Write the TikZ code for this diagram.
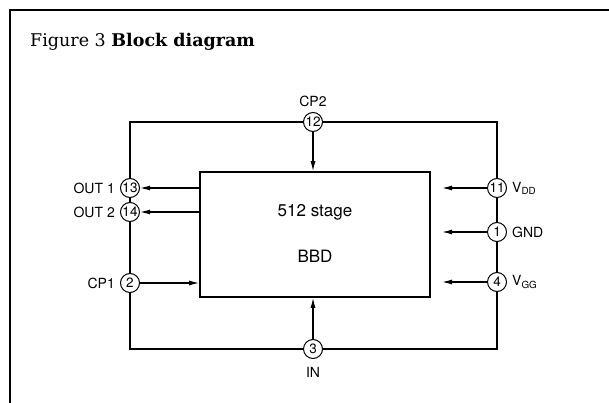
\documentclass[tikz,border=0pt]{standalone}
\usepackage{fontspec}
\setsansfont{TeX Gyre Heros}
\newfontfamily\titlefont{DejaVu Serif}
\usetikzlibrary{arrows.meta,positioning}

\begin{document}
\begin{tikzpicture}[x=1pt,y=-1pt,
pin/.style={draw,circle,fill=white,inner sep=0pt,minimum size=19pt,line width=1pt,
font=\sffamily\fontsize{13.5}{13.5}\selectfont},
lbl/.style={font=\sffamily\fontsize{14}{14}\selectfont,inner sep=0pt},
wire/.style={line width=1.4pt},
arr/.style={-{Latex[length=10pt,width=5pt]},line width=1.2pt}
]
\useasboundingbox (0,0) rectangle (609,403);
% frame and title
\draw[line width=1.6pt] (10,403) -- (10,10) -- (609,10);
\node[anchor=base west,inner sep=0pt,font=\titlefont\fontsize{17.5}{17.5}\selectfont] (title) at (30,47)
  {Figure 3\ \textbf{Block diagram}};
% outer loop
\draw[wire] (130,122) rectangle (497,349);
% BBD block
\node[draw,line width=1.6pt,minimum width=230pt,minimum height=125pt] (bbd) at (315,234.5) {};
\node[font=\sffamily\fontsize{17}{17}\selectfont] (stage) at (315,212) {512 stage};
\node[font=\sffamily\fontsize{17}{17}\selectfont] (name) at (315,256) {BBD};
% pins
\node[pin] (p12) at (313,122) {12};
\node[pin] (p13) at (130,188) {13};
\node[pin] (p14) at (130,212) {14};
\node[pin] (p2) at (130,283) {2};
\node[pin] (p3) at (313,349) {3};
\node[pin] (p11) at (497,188) {11};
\node[pin] (p1) at (497,232) {1};
\node[pin] (p4) at (497,282) {4};
% pin labels
\node[lbl,above=5pt of p12] (cp2) {CP2};
\node[lbl,left=5pt of p13] (out1) {OUT 1};
\node[lbl,left=5pt of p14] (out2) {OUT 2};
\node[lbl,left=5pt of p2] (cp1) {CP1};
\node[lbl,below=8pt of p3] (in) {IN};
\node[lbl,right=5pt of p11] (vdd) {V\textsubscript{DD}};
\node[lbl,right=5pt of p1] (gnd) {GND};
\node[lbl,right=5pt of p4] (vgg) {V\textsubscript{GG}};
% signals
\draw[arr] (p12) -- (bbd.north -| p12);
\draw[arr] (p3) -- (bbd.south -| p3);
\draw[arr] (bbd.west |- p13) -- (p13);
\draw[arr] (bbd.west |- p14) -- (p14);
\draw[arr] (p2) -- (bbd.west |- p2);
\coordinate (e11) at (442,188);
\coordinate (e1) at (442,232);
\coordinate (e4) at (442,282);
\draw[arr] (p11) -- (e11);
\draw[arr] (p1) -- (e1);
\draw[arr] (p4) -- (e4);
\end{tikzpicture}
\end{document}
